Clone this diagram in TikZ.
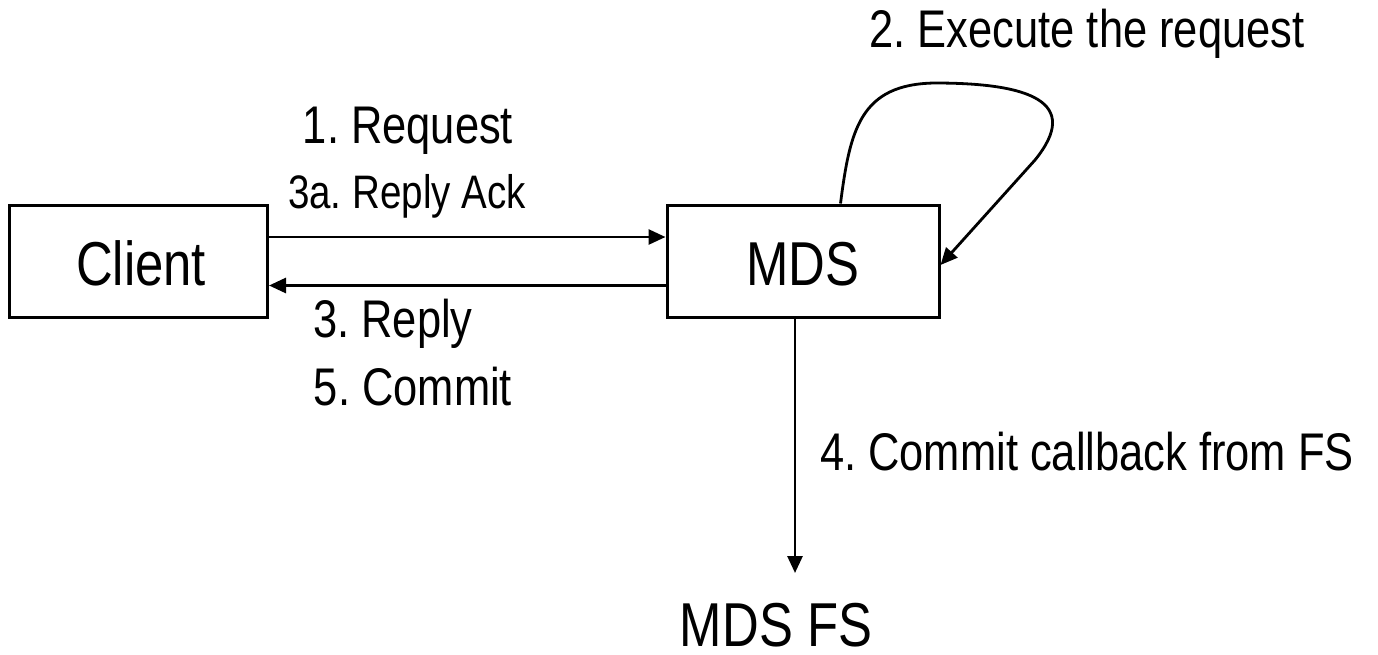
\documentclass[tikz,border=0pt]{standalone}
\usepackage{fontspec}
\setmainfont{Liberation Sans}[FakeStretch=0.82]
\usetikzlibrary{arrows.meta}
\frenchspacing
\tikzset{
  box/.style={draw, line width=3pt, minimum width=#1, minimum height=112pt, inner sep=0pt},
  txt/.style={anchor=base, inner sep=0pt},
  big/.style={txt, font=\fontsize{62}{70}\selectfont},
  lbl/.style={txt, font=\fontsize{53}{60}\selectfont},
  small/.style={txt, font=\fontsize{47}{54}\selectfont},
  link/.style={line width=2.8pt, -{Triangle[length=17pt,width=15pt]}},
}
\begin{document}
\begin{tikzpicture}[x=1pt, y=-1pt]
  \useasboundingbox (0,0) rectangle (1378,654);

  % boxes
  \node[box=258pt] (client) at (138.5,261) {};
  \node[box=272pt] (mds) at (803,261) {};
  \node[big] (clientlbl) at (141,285) {Client};
  \node[big] (mdslbl) at (803,285) {MDS};
  \node[big] (mdsfs) at (776,646) {MDS FS};

  % labels
  \node[lbl] (l1) at (408,143) {1. Request};
  \node[small] (l3a) at (407,208) {3a. Reply Ack};
  \node[lbl] (l2) at (1087,47) {2. Execute the request};
  \node[lbl] (l3) at (393,337) {3. Reply};
  \node[lbl] (l5) at (413,405) {5. Commit};
  \node[lbl] (l4) at (1087,470) {4. Commit callback from FS};

  % connectors
  \draw[link] ([yshift=24pt]client.east) -- ([yshift=24pt]mds.west);
  \draw[link] ([yshift=-24.5pt]mds.west) -- ([yshift=-24.5pt]client.east);

  \coordinate (fsin) at (795,573);
  \draw[link] (mds.south -| fsin) -- (fsin);

  \draw[link] ([xshift=175pt]mds.north west)
      .. controls (850,130) and (860,84) .. (935,83)
      .. controls (1030,83) and (1082,102) .. (1035,160)
      -- ([yshift=-4pt]mds.east);
\end{tikzpicture}
\end{document}
